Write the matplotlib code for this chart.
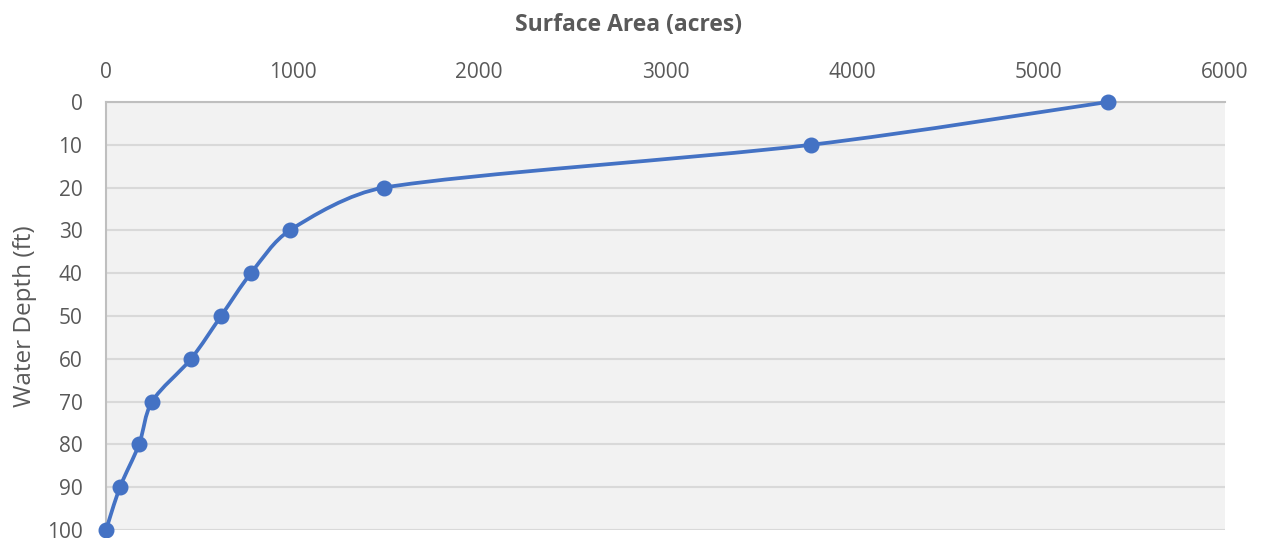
import numpy as np
import matplotlib
matplotlib.use("Agg")
import matplotlib.pyplot as plt
from matplotlib.path import Path
from matplotlib.patches import PathPatch

# Surface area (acres) at each water depth (ft)
depth_ft = [0, 10, 20, 30, 40, 50, 60, 70, 80, 90, 100]
area_acres = [5370, 3780, 1490, 985, 777, 617, 456, 247, 177, 75, 0]
x_ticks = [0, 1000, 2000, 3000, 4000, 5000, 6000]
y_ticks = [0, 10, 20, 30, 40, 50, 60, 70, 80, 90, 100]

line_color = '#4472C4'
text_color = '#595959'
grid_color = '#D9D9D9'

plt.rcParams['font.family'] = ['Open Sans', 'DejaVu Sans']

fig = plt.figure(figsize=(12.62, 5.38), dpi=100)
ax = fig.add_axes([0.084, 0.0149, 0.8867, 0.7955])
ax.set_facecolor('#F2F2F2')

ax.set_xlim(0, 6000)
ax.set_ylim(100, 0)
ax.set_xticks(x_ticks)
ax.set_yticks(y_ticks)
ax.xaxis.tick_top()
ax.xaxis.set_label_position('top')
ax.tick_params(axis='both', length=0, labelsize=15, colors=text_color)
ax.tick_params(axis='x', pad=14)
ax.tick_params(axis='y', pad=17)

ax.grid(True, axis='y', color=grid_color, linewidth=1.5)
ax.set_axisbelow(True)
for side in ['right', 'bottom']:
    ax.spines[side].set_visible(False)
for side in ['left', 'top']:
    ax.spines[side].set_color('#BFBFBF')
    ax.spines[side].set_linewidth(1.5)

ax.set_xlabel('Surface Area (acres)', fontsize=16.5, fontweight='bold',
              color=text_color, labelpad=22)
ax.xaxis.label.set_x(0.467)
ax.set_ylabel('Water Depth (ft)', fontsize=17.5, color=text_color, labelpad=7)

# smoothed line: cubic Bezier segments built in screen space,
# handle length limited so short segments don't kink
pts = ax.transData.transform(np.column_stack([area_acres, depth_ft]))
n = len(pts)


def handle(prev_pt, next_pt, seg_len):
    d = next_pt - prev_pt
    norm = np.hypot(*d)
    if norm == 0:
        return np.zeros(2)
    length = min(norm / 6.0, seg_len / 3.0)
    return d / norm * length


verts = [pts[0]]
codes = [Path.MOVETO]
for i in range(n - 1):
    p0 = pts[max(i - 1, 0)]
    p1 = pts[i]
    p2 = pts[i + 1]
    p3 = pts[min(i + 2, n - 1)]
    seg = np.hypot(*(p2 - p1))
    c1 = p1 + handle(p0, p2, seg)
    c2 = p2 - handle(p1, p3, seg)
    verts += [c1, c2, p2]
    codes += [Path.CURVE4] * 3
curve = Path(ax.transData.inverted().transform(np.array(verts)), codes)
ax.add_patch(PathPatch(curve, facecolor='none', edgecolor=line_color,
                       linewidth=2.7, clip_on=False, zorder=3))

ax.plot(area_acres, depth_ft, linestyle='none', marker='o', markersize=10.5,
        color=line_color, clip_on=False, zorder=4)

fig.savefig('out.png', dpi=100, facecolor='white')
